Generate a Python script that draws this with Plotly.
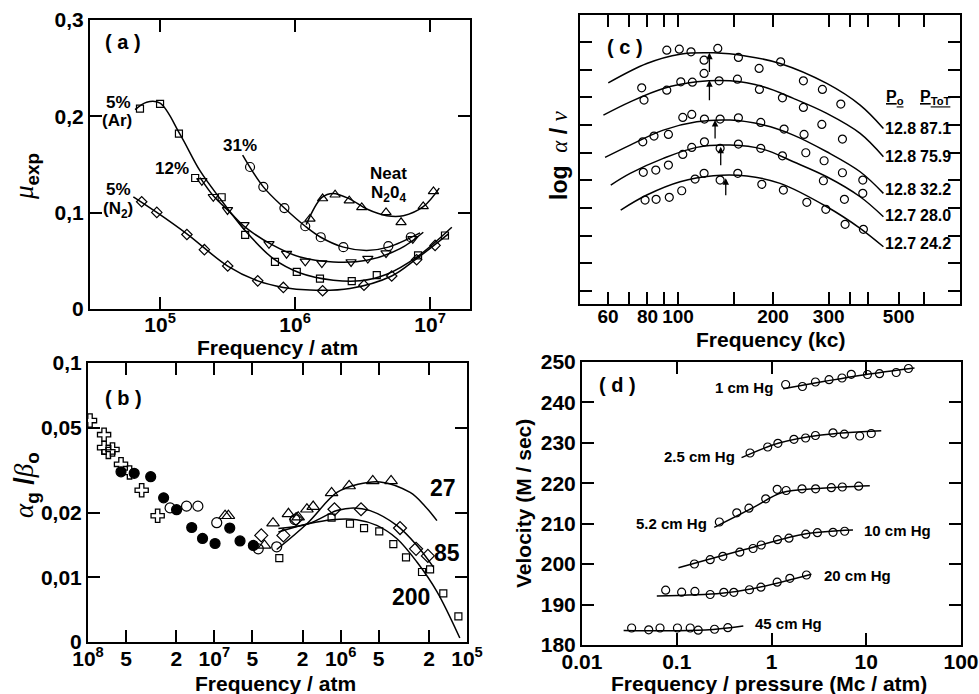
import numpy as np
import plotly.graph_objects as go

W, H = 979, 694
FONT = "Liberation Sans, Arial, sans-serif"
SERIF = "Liberation Serif, Times New Roman, serif"

# ---------------- (a) mu_exp vs frequency / atm ----------------
ar5_f = [7.1e4, 1.0e5, 1.38e5, 1.82e5, 2.86e5, 4.27e5, 7.1e5, 1.03e6, 1.53e6, 2.63e6, 4.03e6, 8.15e6, 1.29e7]
ar5_mu = [0.208, 0.213, 0.182, 0.136, 0.116, 0.077, 0.049, 0.0385, 0.0316, 0.0289, 0.0351, 0.0557, 0.0763]
ar5_fit_f = [6.53e4, 7.96e4, 1.0e5, 1.41e5, 1.98e5, 2.86e5, 4.27e5, 6.9e5, 1.09e6, 1.92e6, 3.03e6, 4.78e6, 7.96e6, 1.45e7]
ar5_fit_mu = [0.2069, 0.2147, 0.2137, 0.1811, 0.1433, 0.1124, 0.0814, 0.0523, 0.0374, 0.0299, 0.0292, 0.0361, 0.0539, 0.0849]

p12_f = [2.04e5, 2.48e5, 3.16e5, 4.19e5, 6.41e5, 8.65e5, 1.19e6, 1.58e6, 2.60e6, 3.46e6, 4.72e6, 7.45e6]
p12_mu = [0.133, 0.1165, 0.1028, 0.0873, 0.0677, 0.0574, 0.0495, 0.0477, 0.0488, 0.0523, 0.058, 0.0729]
p12_fit_f = [1.98e5, 2.48e5, 3.30e5, 4.27e5, 6.9e5, 1.09e6, 1.92e6, 3.40e6, 6.0e6, 8.91e6]
p12_fit_mu = [0.1364, 0.1175, 0.1003, 0.0849, 0.066, 0.0539, 0.0488, 0.0505, 0.0626, 0.0797]

p31_f = [4.64e5, 5.82e5, 8.34e5, 1.19e6, 1.55e6, 2.28e6, 4.91e6, 7.2e6]
p31_mu = [0.1474, 0.1268, 0.1048, 0.0859, 0.0745, 0.0642, 0.0653, 0.0745]
p31_fit_f = [4.09e5, 5.82e5, 8.34e5, 1.19e6, 1.55e6, 2.28e6, 3.40e6, 4.91e6, 8.43e6]
p31_fit_mu = [0.1598, 0.1268, 0.1048, 0.0859, 0.0745, 0.0642, 0.0608, 0.0642, 0.079]

neat_f = [1.29e6, 1.60e6, 1.98e6, 2.52e6, 3.12e6, 4.72e6, 6.1e6, 8.9e6, 1.06e7]
neat_mu = [0.0935, 0.1147, 0.1186, 0.1124, 0.1055, 0.1003, 0.090, 0.1065, 0.122]
neat_fit_f = [1.21e6, 1.58e6, 1.92e6, 2.55e6, 3.40e6, 4.78e6, 6.34e6, 8.91e6, 1.17e7]
neat_fit_mu = [0.0876, 0.1158, 0.12, 0.1141, 0.1038, 0.0969, 0.0969, 0.1062, 0.1255]

n2_f = [7.31e4, 9.46e4, 1.58e5, 2.13e5, 3.17e5, 5.29e5, 8.19e5, 1.60e6, 3.24e6, 5.2e6, 7.96e6, 1.09e7]
n2_mu = [0.1113, 0.1003, 0.0773, 0.0616, 0.0446, 0.0292, 0.0224, 0.0189, 0.0247, 0.0343, 0.0512, 0.066]
n2_fit_f = [6.34e4, 9.46e4, 1.58e5, 3.17e5, 5.3e5, 8.18e5, 1.29e6, 2.55e6, 5.2e6, 7.96e6, 1.37e7]
n2_fit_mu = [0.1165, 0.1003, 0.078, 0.0446, 0.0292, 0.0224, 0.0196, 0.0213, 0.0343, 0.0523, 0.078]

# ---------------- (b) alpha_g / beta_o vs frequency / atm ----------------
cross_f = [9.64e7, 7.46e7, 7.46e7, 6.9e7, 6.4e7, 5.48e7, 4.69e7, 3.76e7, 2.81e7]
cross_r = [0.0539, 0.0463, 0.0403, 0.0385, 0.0395, 0.0337, 0.0309, 0.0255, 0.0194]
dot_f = [5.48e7, 4.31e7, 3.19e7, 2.52e7, 1.99e7, 1.51e7, 1.24e7, 9.87e6, 7.55e6, 6.26e6, 4.91e6]
dot_r = [0.0311, 0.0306, 0.0295, 0.0235, 0.0207, 0.0171, 0.0152, 0.0144, 0.0170, 0.0148, 0.0141]
ring_f = [2.24e7, 1.66e7, 1.35e7, 9.57e6, 4.49e6, 3.21e6, 2.30e6]
ring_r = [0.0211, 0.0215, 0.0215, 0.018, 0.0136, 0.0139, 0.0186]
tri_f = [8.22e6, 7.74e6, 4.01e6, 3.43e6, 2.59e6, 2.17e6, 1.85e6, 1.65e6, 1.18e6, 8.57e5, 5.57e5, 3.99e5]
tri_r = [0.0194, 0.0194, 0.0141, 0.0179, 0.0198, 0.0191, 0.0208, 0.0214, 0.0248, 0.0267, 0.0282, 0.0282]
dia_f = [4.25e6, 2.84e6, 2.25e6, 1.12e6, 6.9e5, 3.39e5, 2.53e5, 2.04e5]
dia_r = [0.0157, 0.0157, 0.0187, 0.0208, 0.0208, 0.0170, 0.0136, 0.0126]
sq_f = [3.06e6, 1.18e6, 8.44e5, 6.53e5, 4.95e5, 3.83e5, 3.04e5, 2.27e5, 1.96e5, 1.54e5, 1.17e5]
sq_r = [0.0123, 0.0190, 0.0178, 0.0170, 0.0164, 0.0143, 0.0124, 0.0106, 0.0109, 0.00843, 0.00659]

fit27_f = [3.21e6, 1.85e6, 1.07e6, 7.28e5, 4.88e5, 2.82e5, 2.15e5, 1.73e5]
fit27_r = [0.0135, 0.0178, 0.0249, 0.0272, 0.0279, 0.0249, 0.0215, 0.0184]
fit85_f = [3.11e6, 1.80e6, 1.07e6, 7.93e5, 5.85e5, 3.6e5, 2.49e5, 1.85e5]
fit85_r = [0.0169, 0.0178, 0.0205, 0.0211, 0.0205, 0.0175, 0.0141, 0.0112]
fit200_f = [3.11e6, 1.80e6, 1.17e6, 7.46e5, 5.18e5, 3.6e5, 2.49e5, 1.73e5, 1.14e5]
fit200_r = [0.0163, 0.0178, 0.0186, 0.0186, 0.0175, 0.0152, 0.0118, 0.00859, 0.00522]

# ---------------- (c) log alpha/nu vs frequency (kc) ----------------
c_meas_f = [
    [92.1, 100.9, 109.9, 120.9, 133.6, 155.3, 180.6, 211.3, 249.5, 286.6, 327.8],
    [76.7, 78.0, 92.1, 102.0, 111.0, 120.9, 134.9, 154.2, 181.0, 214.1, 249.5, 285.4, 331.7],
    [77.3, 83.9, 93.2, 103.5, 110.5, 121.2, 135.9, 155.3, 182.8, 216.7, 250.7, 290.2, 331.7, 384.8],
    [77.6, 85.0, 93.2, 103.5, 110.5, 121.2, 135.9, 155.3, 182.8, 214.1, 253.9, 288.7, 336.5, 384.8],
    [78.6, 85.2, 93.8, 102.7, 113.2, 120.9, 135.9, 154.6, 184.2, 215.6, 255.8, 293.8, 338.2, 386.5],
]
c_meas_y = [
    [9.700, 9.736, 9.639, 9.339, 9.762, 9.437, 9.040, 9.278, 8.592, 8.282, 7.751],
    [8.339, 7.895, 8.256, 8.556, 8.545, 8.859, 8.592, 8.653, 8.282, 7.978, 7.632, 7.018, 6.487],
    [6.390, 6.596, 6.657, 7.271, 7.379, 7.209, 7.209, 7.256, 7.090, 6.848, 6.657, 5.704, 5.271, 5.007],
    [5.285, 5.368, 5.549, 5.935, 6.188, 6.390, 6.152, 6.307, 6.152, 5.884, 5.993, 4.982, 4.310, 4.527],
    [4.285, 4.310, 4.383, 4.621, 5.043, 5.249, 5.007, 5.249, 4.852, 4.646, 4.202, 3.949, 3.408, 3.227],
]
c_fit_f = [
    [60.1, 79.6, 101.5, 129.4, 165.1, 210.5, 295.9, 377.4, 447.3],
    [58.0, 70.5, 89.8, 114.6, 146.1, 186.4, 231.9, 295.9, 377.4, 447.3],
    [58.7, 70.5, 89.8, 114.6, 146.1, 186.4, 231.9, 295.9, 377.4, 447.3],
    [61.2, 70.5, 89.8, 114.6, 146.1, 186.4, 231.9, 295.9, 377.4, 447.3],
    [65.8, 79.6, 101.5, 129.4, 165.1, 210.5, 295.9, 377.4, 447.3],
]
c_fit_y = [
    [8.520, 9.220, 9.556, 9.603, 9.484, 9.220, 8.498, 7.715, 6.874],
    [7.354, 7.834, 8.318, 8.556, 8.592, 8.375, 7.957, 7.415, 6.693, 5.848],
    [5.827, 6.271, 6.812, 7.112, 7.173, 6.993, 6.632, 6.029, 5.307, 4.527],
    [4.827, 5.249, 5.791, 6.188, 6.271, 6.116, 5.668, 5.126, 4.404, 3.682],
    [3.924, 4.466, 4.946, 5.162, 5.152, 4.888, 4.043, 3.264, 2.599],
]
peak_f = [125.7, 125.7, 131.0, 136.5, 141.6]
peak_tail = [8.859, 7.834, 6.451, 5.487, 4.404]
peak_tip = [9.603, 8.617, 7.173, 6.209, 5.069]
p_o = ["12.8", "12.8", "12.8", "12.7", "12.7"]
p_tot = ["87.1", "75.9", "32.2", "28.0", "24.2"]

# ---------------- (d) velocity vs frequency / pressure ----------------
d_labels = ["1 cm Hg", "2.5 cm Hg", "5.2 cm Hg", "10 cm Hg", "20 cm Hg", "45 cm Hg"]
d_x = [
    [1.41, 2.12, 2.91, 4.05, 5.55, 6.95, 10.3, 13.8, 20.7, 27.9],
    [0.594, 0.912, 1.168, 1.725, 2.29, 2.91, 4.46, 5.87, 8.52, 11.3],
    [0.2815, 0.430, 0.578, 0.869, 1.148, 1.428, 2.10, 2.92, 4.28, 5.59, 8.32],
    [0.1536, 0.2253, 0.3064, 0.4627, 0.639, 0.779, 1.157, 1.528, 2.30, 3.05, 4.46, 5.92],
    [0.0764, 0.1126, 0.1555, 0.2253, 0.314, 0.400, 0.585, 0.773, 1.148, 1.562, 2.34],
    [0.0334, 0.0506, 0.0666, 0.1017, 0.1387, 0.1684, 0.2505, 0.3459],
]
d_v = [
    [244.43, 243.94, 245.05, 245.62, 246.04, 246.96, 246.91, 247.11, 247.40, 248.39],
    [227.49, 228.98, 229.89, 230.88, 231.20, 231.82, 232.49, 232.14, 231.70, 232.32],
    [210.43, 212.70, 213.84, 216.16, 218.51, 218.22, 218.64, 218.64, 218.91, 219.08, 219.28],
    [200.04, 201.10, 201.94, 202.96, 203.87, 204.74, 206.05, 206.42, 207.41, 207.78, 207.88, 208.13],
    [193.56, 193.06, 193.24, 192.49, 193.04, 193.04, 193.66, 194.30, 195.54, 196.50, 197.32],
    [184.21, 183.76, 184.21, 184.21, 184.21, 183.67, 183.89, 184.28],
]
d_fit_x = [
    [1.33, 3.65, 9.62, 32.3],
    [0.483, 1.176, 3.36, 14.4],
    [0.249, 0.669, 1.274, 3.36, 10.9],
    [0.1042, 0.669, 2.25, 7.24],
    [0.0616, 0.298, 0.669, 2.64],
    [0.0275, 0.2, 0.504],
]
d_fit_v = [
    [243.40, 245.23, 246.86, 248.52],
    [226.33, 229.89, 231.94, 233.01],
    [209.11, 214.21, 217.67, 218.76, 219.40],
    [199.12, 204.32, 207.46, 208.45],
    [192.12, 192.79, 194.03, 197.49],
    [183.6, 183.7, 184.7],
]

fig = go.Figure()


def fit(x, y, xa, ya):
    fig.add_trace(go.Scatter(x=x, y=y, mode="lines", xaxis=xa, yaxis=ya, hoverinfo="skip",
                             line=dict(color="black", width=1.5, shape="spline", smoothing=1.0)))


def pts(x, y, xa, ya, symbol, size=8, lw=1.2):
    fig.add_trace(go.Scatter(x=x, y=y, mode="markers", xaxis=xa, yaxis=ya,
                             marker=dict(symbol=symbol, size=size, color="black",
                                         line=dict(color="black", width=lw))))


# (a)
fit(ar5_fit_f, ar5_fit_mu, "x", "y")
fit(p12_fit_f, p12_fit_mu, "x", "y")
fit(p31_fit_f, p31_fit_mu, "x", "y")
fit(neat_fit_f, neat_fit_mu, "x", "y")
fit(n2_fit_f, n2_fit_mu, "x", "y")
pts(ar5_f, ar5_mu, "x", "y", "square-open", 7)
pts(p12_f, p12_mu, "x", "y", "triangle-down-open", 9)
pts(p31_f, p31_mu, "x", "y", "circle-open", 9)
pts(neat_f, neat_mu, "x", "y", "triangle-up-open", 9)
pts(n2_f, n2_mu, "x", "y", "diamond-open", 8)

# (b)
fit(fit27_f, fit27_r, "x2", "y2")
fit(fit85_f, fit85_r, "x2", "y2")
fit(fit200_f, fit200_r, "x2", "y2")
pts(cross_f, cross_r, "x2", "y2", "cross-open", 11, 1.3)
pts(dot_f, dot_r, "x2", "y2", "circle", 10)
pts(ring_f, ring_r, "x2", "y2", "circle-open", 10)
pts(tri_f, tri_r, "x2", "y2", "triangle-up-open", 11)
pts(dia_f, dia_r, "x2", "y2", "diamond-open", 10)
pts(sq_f, sq_r, "x2", "y2", "square-open", 7)

# (c)
for fx, fy in zip(c_fit_f, c_fit_y):
    fit(fx, fy, "x3", "y3")
for mx, my in zip(c_meas_f, c_meas_y):
    pts(mx, my, "x3", "y3", "circle-open", 8)

# (d)
for fx, fv in zip(d_fit_x, d_fit_v):
    fit(fx, fv, "x4", "y4")
for mx, mv in zip(d_x, d_v):
    pts(mx, mv, "x4", "y4", "circle-open", 8)


def dom_x(a, b):
    return [a / W, b / W]


def dom_y(top, bottom):
    return [1 - bottom / H, 1 - top / H]


axis_style = dict(showline=True, linecolor="black", linewidth=2, mirror="ticks",
                  ticks="inside", ticklen=12, tickwidth=1.5, tickcolor="black",
                  showgrid=False, zeroline=False, automargin=False, tickangle=0,
                  tickfont=dict(family=FONT, size=21, color="black", weight="bold"))

fig.update_layout(
    width=W, height=H, margin=dict(l=0, r=0, t=0, b=0),
    paper_bgcolor="white", plot_bgcolor="white", showlegend=False, template="none",
    xaxis=dict(axis_style, domain=dom_x(90, 470), anchor="y", type="log",
               range=[4.481, 7.296], tickvals=[1e5, 1e6, 1e7], ticklabelstandoff=-4,
               ticktext=["10<sup>5</sup>", "10<sup>6</sup>", "10<sup>7</sup>"]),
    yaxis=dict(axis_style, domain=dom_y(20, 309), anchor="x", range=[0, 0.3],
               tickvals=[0, 0.1, 0.2, 0.3], ticktext=["0", "0,1", "0,2", "0,3"]),
    xaxis2=dict(axis_style, domain=dom_x(88, 467), anchor="y2", type="log", range=[8, 5],
                ticklabelstandoff=-3,
                tickvals=[1e8, 5e7, 2e7, 1e7, 5e6, 2e6, 1e6, 5e5, 2e5, 1e5],
                ticktext=["10<sup>8</sup>", "5", "2", "10<sup>7</sup>", "5", "2",
                          "10<sup>6</sup>", "5", "2", "10<sup>5</sup>"]),
    yaxis2=dict(axis_style, domain=dom_y(363, 642), anchor="x2", type="log",
                range=[np.log10(0.005), -1],
                tickvals=[0.005, 0.01, 0.02, 0.05, 0.1],
                ticktext=["0", "0,01", "0,02", "0,05", "0,1"]),
    xaxis3=dict(axis_style, domain=dom_x(580, 960), anchor="y3", type="log",
                range=[np.log10(48.9), np.log10(782)], ticklabelstandoff=-6,
                tickfont=dict(family=FONT, size=19, color="black", weight="bold"),
                tickvals=[60, 70, 80, 90, 100, 150, 200, 300, 350, 400, 500, 600],
                ticktext=["60", "", "80", "", "100", "", "200", "300", "", "", "500", ""]),
    yaxis3=dict(axis_style, domain=dom_y(15, 304), anchor="x3", range=[0.53, 10.97],
                tickvals=list(range(1, 11)), showticklabels=False),
    xaxis4=dict(axis_style, domain=dom_x(582, 961), anchor="y4", type="log", range=[-2, 2],
                ticklabelstandoff=-3,
                tickvals=[0.01, 0.1, 1, 10, 100], ticktext=["0.01", "0.1", "1", "10", "100"]),
    yaxis4=dict(axis_style, domain=dom_y(362, 645), anchor="x4", range=[180, 250],
                tickvals=[180, 190, 200, 210, 220, 230, 240, 250]),
)

ann = []


def note(text, x, y, size=17, xanchor="center", yanchor="middle", angle=0):
    ann.append(dict(text=text, x=x / W, y=1 - y / H, xref="paper", yref="paper",
                    showarrow=False, xanchor=xanchor, yanchor=yanchor, textangle=angle,
                    font=dict(family=FONT, size=size, color="black", weight="bold")))


def greek(ch):
    return f'<span style="font-family:{SERIF};font-weight:normal"><i>{ch}</i></span>'


# axis titles
note("Frequency / atm", 277, 347, 21)
note("Frequency / atm", 275, 683, 21)
note("Frequency (kc)", 770, 339, 21)
note("Frequency / pressure (Mc / atm)", 769, 683, 21)
note(greek("μ") + "<sub>exp</sub>", 26, 177, 27, angle=-90)
note(greek("α") + "<sub>g</sub> /" + greek("β") + "<sub>o</sub>", 26, 485, 27, angle=-90)
note("log  " + greek("α") + " / " + greek("ν"), 559, 155, 23, angle=-90)
note("Velocity (M / sec)", 523, 504, 21, angle=-90)

# panel tags
note("( a )", 123, 42, 20)
note("( b )", 123, 398, 20)
note("( c )", 625, 47, 20)
note("( d )", 617, 385, 20)

# (a) series labels
note("5%", 118, 102, 17)
note("(Ar)", 117, 120, 17)
note("31%", 240, 145, 17)
note("12%", 172, 168, 17)
note("5%", 118, 189, 17)
note("(N<sub>2</sub>)", 118, 210, 17)
note("Neat", 388, 173, 17)
note("N<sub>2</sub>0<sub>4</sub>", 388, 194, 17)

# (b) curve labels
for txt, x, y in [("27", 443, 503), ("85", 447, 568), ("200", 411, 612)]:
    ann.append(dict(text=txt, x=x / W, y=1 - y / H, xref="paper", yref="paper", showarrow=False,
                    font=dict(family="Liberation Sans Narrow, " + FONT, size=23, color="black",
                              weight="bold")))

# (c) pressure table
note('<span style="text-decoration:underline">P<sub>o</sub></span>', 895, 97, 16)
note('<span style="text-decoration:underline">P<sub>ToT</sub></span>', 935, 97, 16)
row_y = [128, 157, 189, 215, 243]
for po, pt, ry in zip(p_o, p_tot, row_y):
    note(po, 900, ry, 16)
    note(pt, 935, ry, 16)

# (c) peak arrows
for f, tail, tip in zip(peak_f, peak_tail, peak_tip):
    ann.append(dict(x=np.log10(f), y=tip, ax=np.log10(f), ay=tail, xref="x3", yref="y3",
                    axref="x3", ayref="y3", text="", showarrow=True, arrowhead=2,
                    arrowsize=1, arrowwidth=1.3, arrowcolor="black"))

# (d) pressure labels
note(d_labels[0], 775, 387, 15, xanchor="right")
note(d_labels[1], 737, 456, 15, xanchor="right")
note(d_labels[2], 709, 523, 15, xanchor="right")
note(d_labels[3], 862, 530, 15, xanchor="left")
note(d_labels[4], 822, 575, 15, xanchor="left")
note(d_labels[5], 753, 623, 15, xanchor="left")

fig.update_layout(annotations=ann)
fig.write_html("out.html")
